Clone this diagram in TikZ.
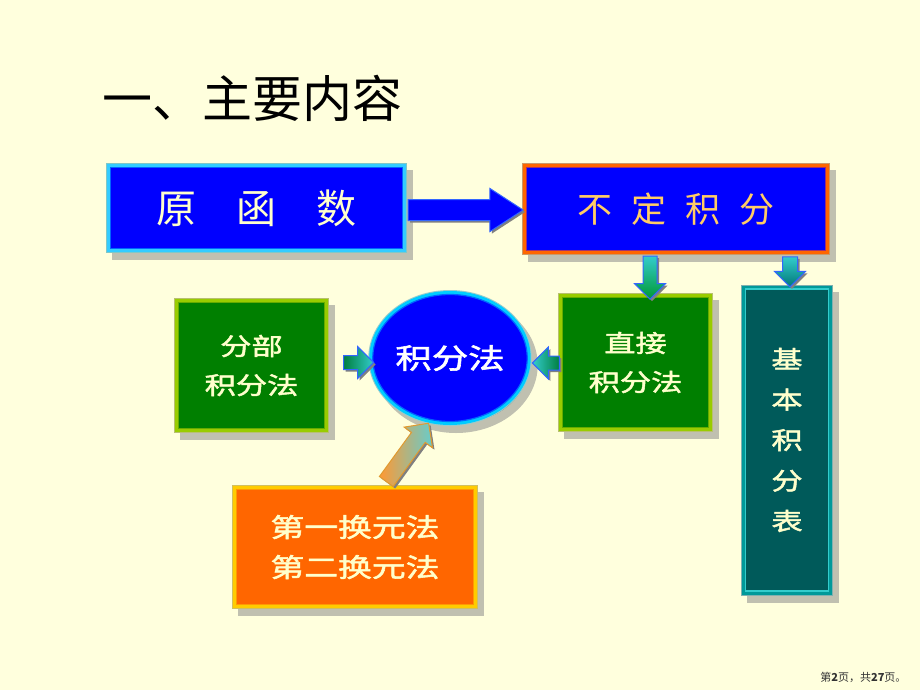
\documentclass[tikz,border=0pt]{standalone}
\usepackage{fontspec}
\setmainfont{Noto Sans CJK SC}
\newfontfamily\cjk{Noto Sans CJK SC}
\newfontfamily\lishu[FakeStretch=1.3,FakeBold=2]{Noto Sans CJK SC}
\usetikzlibrary{shapes.geometric,shapes.arrows,shadows,calc}
\definecolor{bg}{HTML}{FFFFDD}
\definecolor{cream}{HTML}{FFFFCC}
\definecolor{gold}{HTML}{FFCC66}
\definecolor{pblue}{HTML}{0000FF}
\definecolor{shgray}{HTML}{808080}
\definecolor{shedge}{HTML}{C0C0B0}
\definecolor{aedge}{HTML}{3366FF}
\definecolor{gfill}{HTML}{007F00}
\definecolor{tfill}{HTML}{005A5A}
\definecolor{ofill}{HTML}{FF6600}
\definecolor{bOut}{HTML}{7FC8C8}
\definecolor{bBand}{HTML}{33CCFF}
\definecolor{bIn}{HTML}{0066FF}
\definecolor{rOut}{HTML}{CC9966}
\definecolor{rBand}{HTML}{FF6600}
\definecolor{rIn}{HTML}{A03070}
\definecolor{gOut}{HTML}{B8C070}
\definecolor{gBand}{HTML}{99CC00}
\definecolor{gIn}{HTML}{66AA00}
\definecolor{tOut}{HTML}{80B0B0}
\definecolor{tBand}{HTML}{009999}
\definecolor{tIn}{HTML}{33CCCC}
\definecolor{oOut}{HTML}{D0C060}
\definecolor{oBand}{HTML}{FFCC00}
\definecolor{oIn}{HTML}{FF9900}
\definecolor{cOut}{HTML}{99CCCC}
\definecolor{cBand}{HTML}{00CCFF}
\definecolor{teal1}{HTML}{33CCCC}
\definecolor{green1}{HTML}{009933}
\definecolor{teal2}{HTML}{007777}
\definecolor{green2}{HTML}{007F3F}
\definecolor{orEdge}{HTML}{E09A30}
\definecolor{or1}{HTML}{FF9933}
\definecolor{tl3}{HTML}{66CCCC}
\definecolor{foot}{HTML}{333333}
\tikzset{
  framed/.style n args={4}{preaction={draw=#1,line width=9pt},
    preaction={draw=#2,line width=7pt}, draw=#3, line width=1.2pt, fill=#4},
  shadowed/.style={drop shadow={shadow xshift=6pt, shadow yshift=-7pt,
    fill=shgray, draw=shedge, line width=9pt, opacity=1}},
  ashadow/.style={drop shadow={shadow xshift=2pt, shadow yshift=-2pt,
    fill=shgray, opacity=1}},
  blk/.style={single arrow, anchor=tail, draw=aedge, line width=1pt, ashadow},
  hblk/.style={blk, inner xsep=0pt, inner ysep=#1},
  vblk/.style={blk, shape border rotate=270, inner ysep=0pt, inner xsep=#1},
  lbl/.style={font=\lishu\fontsize{24}{39}\selectfont, text=cream, align=center},
}
\begin{document}
\begin{tikzpicture}[x=1pt,y=-1pt]
\fill[bg] (0,0) rectangle (920,690);
\useasboundingbox (0,0) rectangle (920,690);

\node[anchor=west, font=\cjk\fontsize{50}{58}\selectfont] (title) at (99,98) {一、主要内容};

\node[shadowed, framed={bOut}{bBand}{bIn}{pblue},
  minimum width=292pt, minimum height=81pt, inner sep=0pt,
  text=cream, font=\cjk\fontsize{40}{48}\selectfont] (b1) at (256.5,208) {原　函　数};

\node[shadowed, framed={rOut}{rBand}{rIn}{pblue},
  minimum width=299pt, minimum height=83pt, inner sep=0pt,
  text=gold, font=\cjk\fontsize{35}{42}\selectfont] (b2) at (676,209)
  {不\hspace{19pt}定\hspace{19pt}积\hspace{19pt}分};

\node[shadowed, framed={gOut}{gBand}{gIn}{gfill},
  minimum width=146pt, minimum height=126pt, inner sep=0pt, lbl] (fb) at (251.5,365.5) {分部\\积分法};

\node[shadowed, framed={gOut}{gBand}{gIn}{gfill},
  minimum width=146pt, minimum height=130pt, inner sep=0pt, lbl] (zj) at (635.5,362.5) {直接\\积分法};

\node[shadowed, framed={tOut}{tBand}{tIn}{tfill},
  minimum width=83pt, minimum height=302pt, inner sep=0pt,
  font=\lishu\fontsize{24}{40.5}\selectfont, text=cream, align=center] (jb) at (787,440)
  {基\\本\\积\\分\\表};

\node[shadowed, framed={oOut}{oBand}{oIn}{ofill},
  minimum width=237pt, minimum height=115pt, inner sep=0pt,
  font=\lishu\fontsize{26}{40}\selectfont, text=cream, align=center] (hy) at (355,547)
  {第一换元法\\第二换元法};

\node[ellipse, shadowed, framed={cOut}{cBand}{bIn}{pblue},
  minimum width=135pt, minimum height=127pt, inner sep=0pt,
  font=\lishu\fontsize{28}{34}\selectfont, text=white] (c) at (450,358) {积分法};

% block arrows
\node[hblk=10pt, fill=pblue, minimum height=115pt,
  single arrow head extend=11pt, single arrow tip angle=66] (a1)
  at ($(b1.east)+(4.5,2)$) {};
\node[vblk=6.5pt, top color=teal1, bottom color=green1,
  minimum height=43pt, single arrow head extend=8.5pt,
  single arrow tip angle=90] (a2) at ($(b2.south)+(-26,4.5)$) {};
\node[vblk=7pt, top color=teal1, bottom color=teal2,
  minimum height=30pt, single arrow head extend=8pt,
  single arrow tip angle=90] (a3) at ($(jb.north)+(3,-32)$) {};
\node[hblk=6.5pt, left color=green2, right color=teal1,
  minimum height=30pt, single arrow head extend=9pt,
  single arrow tip angle=90] (a4) at ($(fb.east)+(18,-3)$) {};
\node[hblk=6.5pt, shape border rotate=180, left color=teal1, right color=green2,
  minimum height=27pt, single arrow head extend=9pt,
  single arrow tip angle=90] (a5) at ($(zj.west)+(-2,0.5)$) {};
\node[hblk=8pt, draw=orEdge, rotate=54, left color=or1, right color=tl3,
  minimum height=72pt, single arrow head extend=9pt,
  single arrow tip angle=90] (a6) at ($(hy.north)+(31,-7)$) {};

\node[anchor=east, font=\fontsize{11}{13}\selectfont, text=foot] (pg) at (910,677)
  {第\textbf{2}页，共\textbf{27}页。};
\end{tikzpicture}
\end{document}
